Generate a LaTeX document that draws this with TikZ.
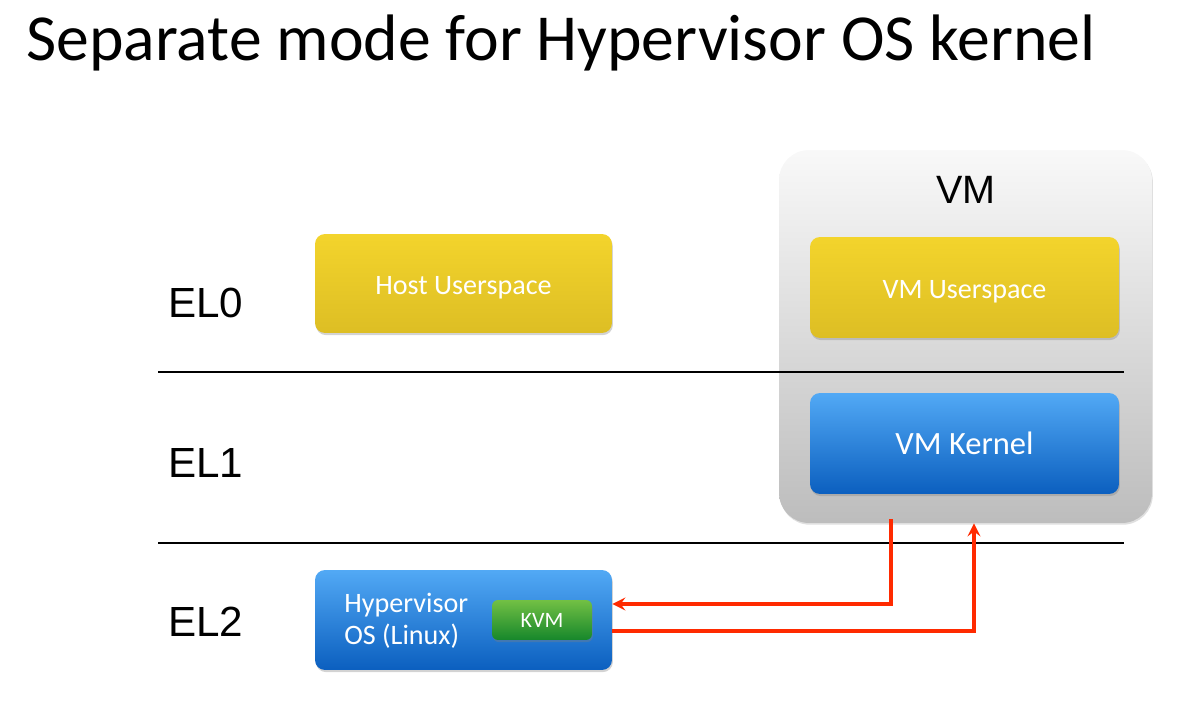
\documentclass[tikz,border=0pt]{standalone}
\usepackage{fontspec}
\setmainfont{Carlito}
\newfontfamily\arial{Liberation Sans}
\usetikzlibrary{shadows}
\definecolor{yeltop}{HTML}{F3D42C}
\definecolor{yelbot}{HTML}{DDBE24}
\definecolor{bluetop}{HTML}{52A9F5}
\definecolor{bluebot}{HTML}{0B5FBF}
\definecolor{greentop}{HTML}{72C044}
\definecolor{greenbot}{HTML}{16872B}
\definecolor{arrred}{HTML}{FF2A00}
\begin{document}
\begin{tikzpicture}[x=0.02cm,y=-0.02cm,
  box/.style={rounded corners=0.2cm,text=white,inner sep=0pt,text height=13pt,text depth=0pt,
    drop shadow={shadow xshift=0.5pt,shadow yshift=-1.2pt,opacity=0.35}},
  yelbox/.style={box,top color=yeltop,bottom color=yelbot},
  bluebox/.style={box,top color=bluetop,bottom color=bluebot},
  el/.style={anchor=west,font=\arial\fontsize{24}{28}\selectfont},
  trap/.style={draw=arrred,line width=2.2pt,-stealth}]
\useasboundingbox (0,0) rectangle (1190,709);
\node[anchor=base west,inner sep=0pt,font=\fontsize{37.4}{44}\selectfont] (title) at (26,61) {Separate mode for Hypervisor OS kernel};
%
% the VM
\node[rounded corners=0.6cm,top color=gray!5,bottom color=gray!52,minimum width=7.46cm,minimum height=7.46cm,
  drop shadow={shadow xshift=0.5pt,shadow yshift=-1pt,opacity=0.25}] (vm) at (965.5,336.5) {};
\node[font=\arial\fontsize{22.5}{26}\selectfont] (vmlabel) at (966,190) {VM};
%
% exception levels
\draw[line width=1.4pt] (158,372) -- (1124,372);
\draw[line width=1.4pt] (158,543) -- (1124,543);
\node[el] (el0) at (162,303) {EL0};
\node[el] (el1) at (162,463) {EL1};
\node[el] (el2) at (162,622) {EL2};
%
\node[yelbox,minimum width=5.94cm,minimum height=1.98cm,font=\fontsize{16}{19}\selectfont] (hostuser) at (463.5,283.5) {Host Userspace};
\node[yelbox,minimum width=6.18cm,minimum height=2.02cm,font=\fontsize{16}{19}\selectfont] (vmuser) at (964.5,287.5) {VM Userspace};
\node[bluebox,minimum width=6.18cm,minimum height=2.02cm,font=\fontsize{18.5}{22}\selectfont] (vmkernel) at (964.5,443.5) {VM Kernel};
\node[bluebox,minimum width=5.94cm,minimum height=2cm] (hyp) at (463.5,620) {};
\node[anchor=west,text=white,align=left,inner sep=0pt,font=\fontsize{16}{18.5}\selectfont] (hyptext) at (344,621) {Hypervisor\\OS (Linux)};
\node[box,top color=greentop,bottom color=greenbot,rounded corners=0.12cm,minimum width=2cm,minimum height=0.8cm,
  text height=9pt,font=\fontsize{12.5}{15}\selectfont] (kvm) at (542,620) {KVM};
%
% traps between VM and hypervisor
\draw[trap] ([xshift=-1.49cm,yshift=0.08cm]vm.south) |- ([yshift=0.32cm]hyp.east);
\draw[trap] ([yshift=-0.22cm]hyp.east) -| ([xshift=0.17cm]vm.south);
\end{tikzpicture}
\end{document}
